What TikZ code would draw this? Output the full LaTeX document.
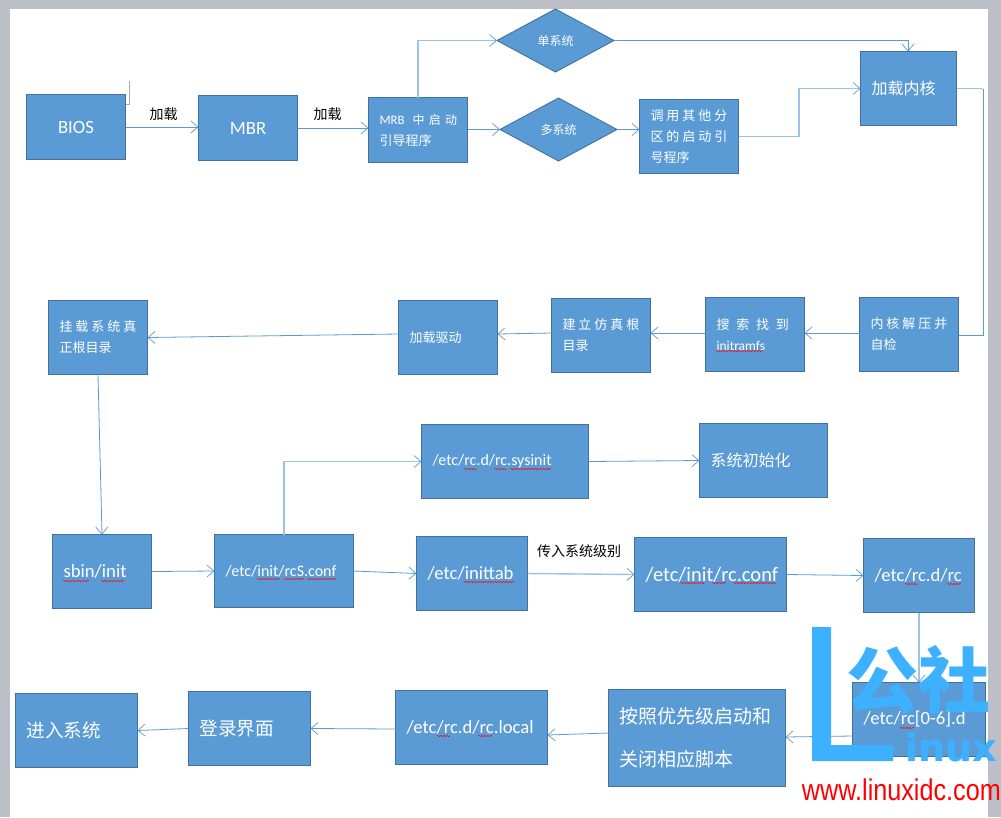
\documentclass[tikz,border=0pt]{standalone}
\usepackage{fontspec}
\setmainfont{Carlito}
\newfontfamily\cjk{Noto Sans CJK SC}
\newfontfamily\cjksp[LetterSpace=23]{Noto Sans CJK SC}
\newfontfamily\cjkspm[LetterSpace=35]{Noto Sans CJK SC}
\newfontfamily\cjkspw[LetterSpace=52]{Noto Sans CJK SC}
\newfontfamily\djv{DejaVu Sans}
\newfontfamily\lib[FakeStretch=0.84]{Liberation Sans}
\usetikzlibrary{arrows.meta,shapes.geometric,decorations.pathmorphing}
\definecolor{pagegray}{HTML}{BDBFC8}
\definecolor{boxfill}{HTML}{5B9BD5}
\definecolor{boxline}{HTML}{41719C}
\definecolor{lightline}{HTML}{9DC3E6}
\definecolor{wm}{HTML}{3DB1FF}
\tikzset{
  boxbase/.style={draw=boxline,fill=boxfill,line width=.9pt,text=white,inner ysep=0pt,inner xsep=11pt,outer sep=0pt,align=left},
  dia/.style={shape=diamond,draw=boxline,fill=boxfill,line width=.9pt,text=white,inner sep=0pt,outer sep=0pt,aspect=1.857,minimum width=117pt,minimum height=63pt,font=\cjk\fontsize{12}{14}\selectfont},
  conn/.style={draw=boxfill,line width=.8pt,-{Straight Barb[length=7pt,width=12pt,line width=.7pt]}},
  connl/.style={draw=lightline,line width=1.4pt,-{Straight Barb[length=7pt,width=12pt,line width=.7pt,color=boxfill]}},
  wave/.style={draw=red,line width=.45pt,decorate,decoration={snake,segment length=3pt,amplitude=.7pt}},
  s12/.style={font=\fontsize{13}{21}\selectfont},
  s14/.style={font=\fontsize{16}{18}\selectfont},
  s17/.style={font=\fontsize{18.7}{21}\selectfont},
  c16/.style={font=\cjk\fontsize{16}{21}\selectfont},
  c18/.style={font=\cjk\fontsize{18.6}{21}\selectfont}
}
\newcommand\bx[7]{%
  \pgfmathsetmacro\bxw{#4-#2-1}\pgfmathsetmacro\bxt{#4-#2-23}\pgfmathsetmacro\bxh{#5-#3-1}%
  \pgfmathsetmacro\bxcx{(#2+#4)/2}\pgfmathsetmacro\bxcy{(#3+#5)/2}%
  \node[boxbase,minimum width=\bxw pt,text width=\bxt pt,minimum height=\bxh pt,#6] (#1) at (\bxcx,\bxcy) {#7};}
\newcommand\wv[3]{\draw[wave] (#1,#3) -- (#2,#3);}
\begin{document}
\begin{tikzpicture}[x=1pt,y=-1pt]
\useasboundingbox (0,0) rectangle (1001,817);
\fill[pagegray] (0,0) rectangle (1001,817);
\fill[white] (10,9) rectangle (988,817);
\draw[gray!70,line width=.7pt] (129,81) -- (129,104) -- (126,104);

\bx{bios}{26}{94}{126}{160}{s17,align=center}{BIOS}
\bx{mbr}{198}{95}{298}{161}{s17,align=center}{MBR}
\bx{mrb}{368}{97}{468}{163}{s12}{\mbox{MRB\hspace{8pt}{\cjkspm\fontsize{12}{21}\selectfont 中启动}}\\{\cjk\fontsize{13}{21}\selectfont 引导程序}}
\node[dia] (single) at (555.5,40.5) {单系统};
\node[dia] (multi) at (558.5,129.5) {多系统};
\bx{other}{639}{99}{739}{174}{s12}{{\cjksp 调用其他分}\\{\cjksp 区的启动引}\\{\cjk 号程序}}
\bx{kernel}{860}{51}{957}{126}{c16,inner xsep=10pt}{加载内核}
\bx{unpack}{859}{297}{959}{372}{s12}{{\cjksp 内核解压并}\\{\cjk 自检}}
\bx{search}{705}{297}{805}{372}{s12}{{\cjkspw 搜索找到}\\{\fontsize{13.5}{21}\selectfont initramfs}}
\bx{fakeroot}{551}{298}{651}{373}{s12}{{\cjksp 建立仿真根}\\{\cjk 目录}}
\bx{driver}{398}{300}{498}{375}{s12}{{\cjk 加载驱动}}
\bx{realroot}{48}{300}{148}{375}{s12}{{\cjksp 挂载系统真}\\{\cjk 正根目录}}
\bx{sbin}{52}{534}{152}{609}{s17}{sbin/init}
\bx{rcs}{214}{534}{354}{608}{s14}{/etc/init/rcS.conf}
\bx{sysinit}{421}{424}{589}{499}{s14}{/etc/rc.d/rc.sysinit}
\bx{sysini}{699}{423}{828}{498}{c16}{系统初始化}
\bx{inittab}{416}{536}{528}{611}{s17}{/etc/inittab}
\bx{rcconf}{634}{537}{787}{612}{font=\fontsize{20.5}{21}\selectfont}{/etc/init/rc.conf}
\bx{rcd}{863}{538}{975}{613}{s17}{/etc/rc.d/rc}
\bx{rcn}{852}{682}{986}{757}{s17}{/etc/rc[0-6].d}
\bx{prio}{608}{689}{786}{787}{font=\cjk\fontsize{19}{43}\selectfont}{按照优先级启动和\\关闭相应脚本}
\bx{local}{395}{690}{548}{765}{s17}{/etc/rc.d/rc.local}
\bx{login}{188}{691}{311}{766}{c18}{登录界面}
\bx{enter}{15}{693}{138}{768}{c18}{进入系统}

\node[font=\cjk\fontsize{14}{16}\selectfont,inner sep=0pt] (lab1) at (163.5,114) {加载};
\node[font=\cjk\fontsize{14}{16}\selectfont,inner sep=0pt] (lab2) at (327.5,114) {加载};
\node[font=\cjk\fontsize{14}{15}\selectfont,inner sep=0pt] (lab3) at (579,551) {传入系统级别};

\draw[conn] (bios.east) -- (mbr.west |- bios.east);
\draw[conn] (mbr.east) -- (mrb.west |- mbr.east);
\draw[connl] (mrb.north) |- (single.west);
\draw[conn] (mrb.east |- multi.west) -- (multi.west);
\draw[conn] (multi.east) -- (other.west |- multi.east);
\draw[conn] (single.east) -| ([xshift=-.5pt]kernel.north);
\draw[connl] (other.east) -- (799,136.5) |- (kernel.west);
\draw[connl,-] (kernel.east) -- (983,88.5);
\draw[conn,-] (983,88.5) |- ([yshift=-.5pt]unpack.east);
\draw[conn] ([yshift=1.5pt]unpack.west) -- ([yshift=1.5pt]search.east);
\draw[conn] ([yshift=1.5pt]search.west) -- ([yshift=2.5pt]fakeroot.east);
\draw[conn] ([yshift=2.5pt]fakeroot.west) -- ([yshift=3.5pt]driver.east);
\draw[conn] ([yshift=3.5pt]driver.west) -- (realroot.east);
\draw[conn] (realroot.south) -- (sbin.north);
\draw[conn] (sbin.east) -- (rcs.west);
\draw[connl] (rcs.north) |- (sysinit.west);
\draw[conn] (sysinit.east) -- (sysini.west);
\draw[conn] (rcs.east) -- (inittab.west);
\draw[connl] (inittab.east) -- (rcconf.west);
\draw[conn] (rcconf.east) -- (rcd.west);
\draw[connl] (rcd.south) -- (rcn.north -| rcd.south);
\draw[conn] ([yshift=-16.5pt]rcn.west) -- ([yshift=1pt]prio.east);
\draw[conn] ([yshift=5pt]prio.west) -- ([yshift=-7.5pt]local.east);
\draw[conn] ([yshift=-1.5pt]local.west) -- (login.east);
\draw[conn] (login.west) -- (enter.east);

\wv{716}{764}{351}
\wv{63}{89}{581}\wv{101}{125}{581}
\wv{257}{280}{579}\wv{284}{305}{579}\wv{307}{336}{579}
\wv{464}{477}{469}\wv{494}{507}{469}\wv{510}{551}{469}
\wv{464}{515}{582}
\wv{680}{705}{583}\wv{712}{726}{583}\wv{733}{776}{583}
\wv{905}{918}{584}\wv{947}{961}{584}
\wv{900}{915}{728}
\wv{437}{450}{736}\wv{478}{492}{736}

% watermark
\fill[wm] (812,627) -- (831,627) -- (831,745) -- (893,745) -- (893,761) -- (812,761) -- cycle;
\node[font=\cjk\bfseries\fontsize{72}{72}\selectfont,text=wm,inner sep=0pt,anchor=center] (wmcjk) at (918,680) {公社};
\node[font=\djv\bfseries\fontsize{38}{38}\selectfont,text=wm,inner sep=0pt,anchor=base west] (wminux) at (905,761) {inux};
\node[font=\lib\fontsize{30}{30}\selectfont,text=red,inner sep=0pt,anchor=base east] (wmurl) at (1001,800) {www.linuxidc.com};
\end{tikzpicture}
\end{document}
